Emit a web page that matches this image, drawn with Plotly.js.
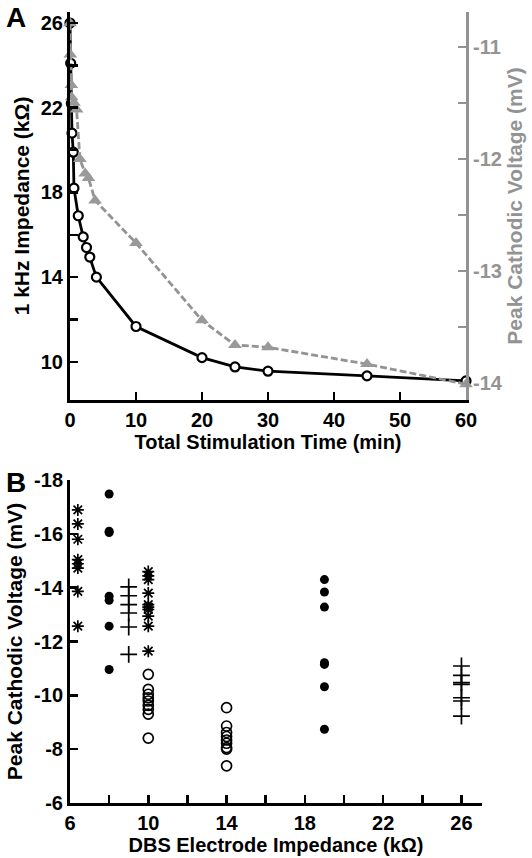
<!DOCTYPE html>
<html>
<head>
<meta charset="utf-8">
<script src="https://cdn.plot.ly/plotly-3.0.1.min.js"></script>
<style>html,body{margin:0;padding:0;background:#fff;}#chart{width:532px;height:858px;}</style>
</head>
<body>
<div id="chart"></div>
<script>
// Panel A: impedance (left axis) vs stimulation time
var impTime = [0, 0.1, 0.2, 0.3, 0.5, 0.6, 1.25, 2, 2.5, 3, 4, 10, 20, 25, 30, 45, 60];
var impVal  = [26, 24.1, 22.2, 20.8, 19.9, 18.2, 16.9, 15.9, 15.4, 14.95, 14.0, 11.67, 10.2, 9.76, 9.56, 9.34, 9.1];
// Panel A: peak cathodic voltage (right axis)
var voltTime = [0, 0.05, 0.2, 0.25, 0.6, 1, 1.5, 2.3, 2.8, 3.8, 10, 20, 25, 30, 45, 60];
var voltVal  = [-10.79, -11.07, -11.34, -11.45, -11.5, -11.56, -12.0, -12.13, -12.17, -12.37, -12.75, -13.44, -13.66, -13.68, -13.83, -14.01];

// Panel B: scatter groups
var starX = [6.4, 6.4, 6.4, 6.4, 6.4, 6.4, 6.4, 6.4, 10, 10, 10, 10, 10, 10, 10, 10, 10, 10];
var starY = [-16.89, -16.37, -15.8, -15.04, -14.89, -14.73, -13.86, -12.57, -14.6, -14.44, -14.3, -13.8, -13.37, -13.28, -13.19, -12.94, -12.57, -11.64];
var dotX = [8, 8, 8, 8, 8, 8, 8, 19, 19, 19, 19, 19, 19, 19];
var dotY = [-17.48, -16.1, -16.05, -13.68, -13.53, -12.57, -10.96, -14.3, -13.84, -13.28, -11.21, -11.15, -10.32, -8.74];
var plusX = [9, 9, 9, 9, 9, 9, 26, 26, 26, 26, 26, 26, 26];
var plusY = [-14.03, -13.7, -13.37, -13.06, -12.54, -11.52, -11.09, -10.74, -10.47, -10.41, -9.91, -9.79, -9.23];
var ringX = [10, 10, 10, 10, 10, 10, 10, 10, 10, 14, 14, 14, 14, 14, 14, 14, 14, 14];
var ringY = [-10.78, -10.22, -10.04, -9.91, -9.79, -9.63, -9.48, -9.3, -8.41, -9.54, -8.86, -8.62, -8.47, -8.34, -8.22, -8.06, -8.0, -7.38];

// Tick labels
var aXTicks = [0, 10, 20, 30, 40, 50, 60];
var aYTickVals = [10, 12, 14, 16, 18, 20, 22, 24, 26];
var aYTickText = ['10', '', '14', '', '18', '', '22', '', '26'];
var aY2TickVals = [-14, -13.5, -13, -12.5, -12, -11.5, -11];
var aY2TickText = ['-14', '', '-13', '', '-12', '', '-11'];
var bXTickVals = [6, 8, 10, 12, 14, 16, 18, 20, 22, 24, 26];
var bXTickText = ['6', '', '10', '', '14', '', '18', '', '22', '', '26'];
var bYTickVals = [-18, -16, -14, -12, -10, -8, -6];
var bYTickText = ['-18', '-16', '-14', '-12', '-10', '-8', '-6'];

var FONT = 'Liberation Sans, Arial, sans-serif';
var GRAY = '#939393';
var tf = {family: FONT, size: 20, color: '#000', weight: 'bold'};
var tfGray = {family: FONT, size: 20, color: GRAY, weight: 'bold'};
var vt = {family: FONT, size: 21, color: '#000', weight: 'bold'};
var vtGray = {family: FONT, size: 21, color: GRAY, weight: 'bold'};

var traces = [
  {x: impTime, y: impVal, xaxis: 'x', yaxis: 'y', mode: 'lines+markers', type: 'scatter', cliponaxis: false,
   line: {color: '#000', width: 2.8},
   marker: {symbol: 'circle', size: 9, color: '#fff', line: {color: '#000', width: 2.2}},
   showlegend: false},
  {x: voltTime, y: voltVal, xaxis: 'x', yaxis: 'y2', mode: 'lines+markers', type: 'scatter', cliponaxis: false,
   line: {color: GRAY, width: 2.8, dash: '7px,3px'},
   marker: {symbol: 'triangle-up', size: 12, color: '#999'},
   showlegend: false},
  {x: starX, y: starY, xaxis: 'x2', yaxis: 'y3', mode: 'markers', type: 'scatter', cliponaxis: false,
   marker: {symbol: 'asterisk', size: 10, color: '#000', line: {color: '#000', width: 1.7}},
   showlegend: false},
  {x: dotX, y: dotY, xaxis: 'x2', yaxis: 'y3', mode: 'markers', type: 'scatter', cliponaxis: false,
   marker: {symbol: 'circle', size: 9, color: '#000'},
   showlegend: false},
  {x: plusX, y: plusY, xaxis: 'x2', yaxis: 'y3', mode: 'markers', type: 'scatter', cliponaxis: false,
   marker: {symbol: 'cross-thin', size: 12, color: '#000', line: {color: '#000', width: 1.7}},
   showlegend: false},
  {x: ringX, y: ringY, xaxis: 'x2', yaxis: 'y3', mode: 'markers', type: 'scatter', cliponaxis: false,
   marker: {symbol: 'circle-open', size: 10, color: '#000', line: {color: '#000', width: 1.7}},
   showlegend: false}
];

var axisCommon = {showgrid: false, zeroline: false, showline: true, linewidth: 3, linecolor: '#000',
  ticks: 'inside', ticklen: 8, tickwidth: 2.5, tickcolor: '#000', tickfont: tf, tickmode: 'array'};

var layout = {
  width: 532, height: 858,
  margin: {l: 70, r: 50, t: 12, b: 55},
  paper_bgcolor: '#fff', plot_bgcolor: 'rgba(0,0,0,0)',
  showlegend: false,
  xaxis: Object.assign({}, axisCommon, {domain: [0, 0.9612], anchor: 'y', range: [0, 60],
    tickvals: aXTicks, ticktext: aXTicks.map(String),
    title: {text: 'Total Stimulation Time (min)', font: tf, standoff: 4}}),
  yaxis: Object.assign({}, axisCommon, {domain: [0.5095, 1], anchor: 'x', range: [8.2, 26.52],
    tickvals: aYTickVals, ticktext: aYTickText,
    title: {text: '1 kHz Impedance (kΩ)', font: vt, standoff: 6}}),
  yaxis2: Object.assign({}, axisCommon, {overlaying: 'y', side: 'right', anchor: 'x', range: [-14.15, -10.69],
    linecolor: GRAY, tickcolor: GRAY, tickfont: tfGray,
    tickvals: aY2TickVals, ticktext: aY2TickText,
    title: {text: 'Peak Cathodic Voltage (mV)', font: vtGray, standoff: 6}}),
  xaxis2: Object.assign({}, axisCommon, {domain: [0, 1], anchor: 'y3', range: [6, 27.05],
    tickvals: bXTickVals, ticktext: bXTickText,
    title: {text: 'DBS Electrode Impedance (kΩ)', font: tf, standoff: 4}}),
  yaxis3: Object.assign({}, axisCommon, {domain: [0, 0.4083], anchor: 'x2', range: [-6, -18],
    tickvals: bYTickVals, ticktext: bYTickText,
    title: {text: 'Peak Cathodic Voltage (mV)', font: vt, standoff: 6}}),
  annotations: [
    {text: 'A', xref: 'paper', yref: 'paper', x: -0.16, y: 1.0152, xanchor: 'left', yanchor: 'top',
     showarrow: false, font: {family: FONT, size: 28, color: '#000', weight: 'bold'}},
    {text: 'B', xref: 'paper', yref: 'paper', x: -0.16, y: 0.4046, xanchor: 'left', yanchor: 'middle',
     showarrow: false, font: {family: FONT, size: 28, color: '#000', weight: 'bold'}}
  ]
};

Plotly.newPlot('chart', traces, layout, {displayModeBar: false, staticPlot: true});
</script>
</body>
</html>
